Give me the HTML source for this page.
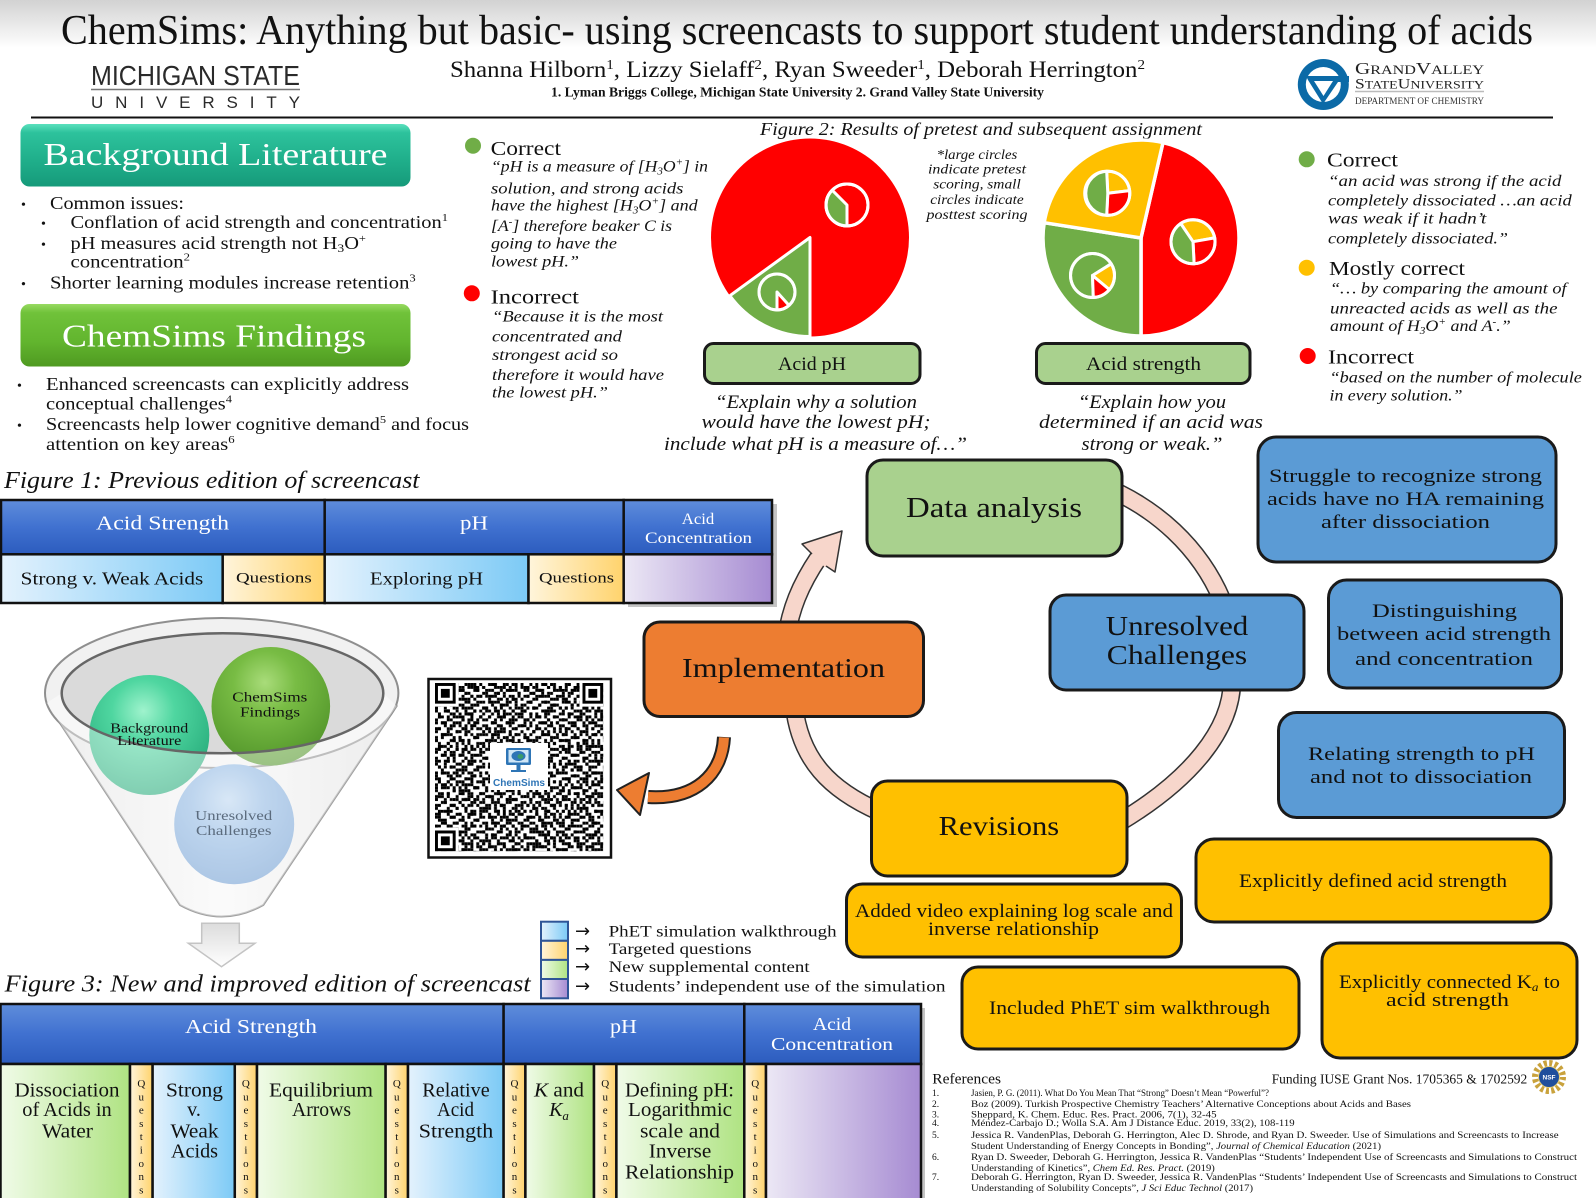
<!DOCTYPE html>
<html><head><meta charset="utf-8">
<style>
html,body{margin:0;padding:0;background:#fff;}
svg{display:block;}
text{font-family:"Liberation Serif","DejaVu Serif",serif;fill:#111;}
.it{font-style:italic;}
.w{fill:#fff;}
.sans{font-family:"Liberation Sans","DejaVu Sans",sans-serif;}
.arr{font-family:"DejaVu Sans",sans-serif;}
</style></head><body>
<svg width="1596" height="1198" viewBox="0 0 1596 1198" xmlns="http://www.w3.org/2000/svg">
<defs>
<linearGradient id="topg" x1="0" y1="0" x2="0" y2="1"><stop offset="0" stop-color="#d2d2d2"/><stop offset="1" stop-color="#ffffff"/></linearGradient>
<linearGradient id="teal" x1="0" y1="0" x2="0" y2="1"><stop offset="0" stop-color="#5be0bd"/><stop offset="0.14" stop-color="#2dc29c"/><stop offset="0.6" stop-color="#1fae8a"/><stop offset="1" stop-color="#169a7a"/></linearGradient>
<linearGradient id="grn" x1="0" y1="0" x2="0" y2="1"><stop offset="0" stop-color="#98da62"/><stop offset="0.14" stop-color="#70c23a"/><stop offset="0.6" stop-color="#62b52e"/><stop offset="1" stop-color="#4f9a21"/></linearGradient>
<linearGradient id="hdr" x1="0" y1="0" x2="0" y2="1"><stop offset="0" stop-color="#5f8ddb"/><stop offset="0.5" stop-color="#4071d0"/><stop offset="1" stop-color="#2c5cbe"/></linearGradient>
<linearGradient id="cb" x1="0" y1="0" x2="1" y2="0"><stop offset="0" stop-color="#e4f2fd"/><stop offset="1" stop-color="#7ccaf6"/></linearGradient>
<linearGradient id="cy" x1="0" y1="0" x2="1" y2="0"><stop offset="0" stop-color="#fff5dc"/><stop offset="1" stop-color="#ffd36c"/></linearGradient>
<linearGradient id="cp" x1="0" y1="0" x2="1" y2="0"><stop offset="0" stop-color="#ece8f5"/><stop offset="1" stop-color="#a68bd2"/></linearGradient>
<linearGradient id="cg" x1="0" y1="0" x2="1" y2="0"><stop offset="0" stop-color="#f0fbe8"/><stop offset="1" stop-color="#afe382"/></linearGradient>
<linearGradient id="fun" x1="0" y1="0" x2="1" y2="0"><stop offset="0" stop-color="#e2e2e2"/><stop offset="0.5" stop-color="#f7f7f7"/><stop offset="1" stop-color="#e0e0e0"/></linearGradient>
<linearGradient id="darr" x1="0" y1="0" x2="0" y2="1"><stop offset="0" stop-color="#dcdcdc"/><stop offset="1" stop-color="#ffffff"/></linearGradient>
<radialGradient id="gBL" cx="0.45" cy="0.3" r="0.75"><stop offset="0" stop-color="#9ff3cd"/><stop offset="0.35" stop-color="#4fd6a0"/><stop offset="1" stop-color="#22a676"/></radialGradient>
<radialGradient id="gCF" cx="0.45" cy="0.3" r="0.75"><stop offset="0" stop-color="#a9dc7a"/><stop offset="0.35" stop-color="#78bc44"/><stop offset="1" stop-color="#4f9228"/></radialGradient>
<radialGradient id="gUC" cx="0.45" cy="0.3" r="0.75"><stop offset="0" stop-color="#bcd6f0"/><stop offset="0.4" stop-color="#8fb7e2"/><stop offset="1" stop-color="#6d9bd0"/></radialGradient>
<pattern id="q11" patternUnits="userSpaceOnUse" width="11" height="11" patternTransform="translate(435,683) scale(2.95)">
<path d="M1 0h1v1h-1zM4 0h1v1h-1zM7 0h1v1h-1zM0 1h1v1h-1zM5 1h1v1h-1zM9 1h1v1h-1zM2 2h2v1h-2zM8 2h1v1h-1zM6 3h1v1h-1zM10 3h1v1h-1zM1 4h1v1h-1zM4 4h1v1h-1zM9 4h1v1h-1zM0 5h1v1h-1zM7 5h1v1h-1zM3 6h1v1h-1zM5 6h1v1h-1zM10 6h1v1h-1zM2 7h1v1h-1zM8 7h1v1h-1zM0 8h1v1h-1zM6 8h1v1h-1zM9 8h1v1h-1zM4 9h1v1h-1zM7 9h1v1h-1zM1 10h1v1h-1zM5 10h1v1h-1zM10 10h1v1h-1z" fill="#000"/>
</pattern>
<pattern id="q13" patternUnits="userSpaceOnUse" width="13" height="13" patternTransform="translate(435,683) scale(2.95)">
<path d="M0 0h1v1h-1zM6 0h1v1h-1zM11 0h1v1h-1zM3 1h1v1h-1zM8 1h1v1h-1zM12 1h1v1h-1zM1 2h1v1h-1zM5 2h1v1h-1zM9 2h1v1h-1zM7 3h1v1h-1zM10 3h1v1h-1zM2 4h1v1h-1zM4 4h1v1h-1zM12 4h1v1h-1zM0 5h1v1h-1zM8 5h1v1h-1zM5 6h2v1h-2zM11 6h1v1h-1zM1 7h1v1h-1zM9 7h1v1h-1zM3 8h1v1h-1zM7 8h1v1h-1zM12 8h1v1h-1zM0 9h1v1h-1zM4 9h1v1h-1zM10 9h1v1h-1zM6 10h1v1h-1zM11 10h1v1h-1zM2 11h1v1h-1zM8 11h2v1h-2zM4 12h1v1h-1zM12 12h1v1h-1z" fill="#000"/>
</pattern>
<pattern id="q17" patternUnits="userSpaceOnUse" width="17" height="17" patternTransform="translate(435,683) scale(2.95)">
<path d="M2 0h2v1h-2zM10 0h1v1h-1zM6 1h1v1h-1zM13 1h2v1h-2zM0 2h1v1h-1zM8 2h2v1h-2zM4 3h1v1h-1zM11 3h1v1h-1zM16 3h1v1h-1zM1 4h2v1h-2zM14 4h1v1h-1zM7 5h1v1h-1zM9 5h2v1h-2zM3 6h1v1h-1zM15 6h1v1h-1zM5 7h2v1h-2zM12 7h1v1h-1zM0 8h1v1h-1zM10 8h1v1h-1zM16 8h1v1h-1zM3 9h2v1h-2zM13 9h1v1h-1zM8 10h1v1h-1zM11 10h2v1h-2zM1 11h1v1h-1zM6 11h1v1h-1zM15 11h1v1h-1zM9 12h1v1h-1zM14 12h1v1h-1zM2 13h2v1h-2zM7 13h1v1h-1zM5 14h1v1h-1zM12 14h2v1h-2zM0 15h1v1h-1zM10 15h1v1h-1zM4 16h1v1h-1zM8 16h1v1h-1zM16 16h1v1h-1z" fill="#000"/>
</pattern>
</defs>

<!-- header -->
<rect x="0" y="0" width="1596" height="48" fill="url(#topg)"/>
<text x="61" y="44" font-size="42" textLength="1472" lengthAdjust="spacingAndGlyphs">ChemSims: Anything but basic- using screencasts to support student understanding of acids</text>

<text class="sans" x="91" y="85" font-size="28" textLength="209" lengthAdjust="spacingAndGlyphs" style="fill:#2a2a2a">MICHIGAN STATE</text>
<line x1="91" y1="89.5" x2="300" y2="89.5" stroke="#777" stroke-width="1.5"/>
<text class="sans" x="91" y="108" font-size="17" textLength="209" lengthAdjust="spacing" style="fill:#2a2a2a">UNIVERSITY</text>

<text x="450" y="77" font-size="23" textLength="695" lengthAdjust="spacingAndGlyphs">Shanna Hilborn<tspan font-size="14" dy="-8">1</tspan><tspan dy="8">, Lizzy Sielaff</tspan><tspan font-size="14" dy="-8">2</tspan><tspan dy="8">, Ryan Sweeder</tspan><tspan font-size="14" dy="-8">1</tspan><tspan dy="8">, Deborah Herrington</tspan><tspan font-size="14" dy="-8">2</tspan></text>
<text x="551" y="96.5" font-size="14" font-weight="bold" textLength="493" lengthAdjust="spacingAndGlyphs">1. Lyman Briggs College, Michigan State University 2. Grand Valley State University</text>

<!-- GVSU logo -->
<circle cx="1323.3" cy="84.5" r="25.5" fill="#0b6aa7"/>
<circle cx="1323.3" cy="84.5" r="17.5" fill="#fff"/>
<polygon points="1306,76 1349,76 1349,82 1338,82 1323,104 1308,80" fill="#0b6aa7"/>
<polygon points="1314,81 1333,81 1323.5,96" fill="#fff"/>
<text x="1355" y="74" font-size="17" textLength="129" lengthAdjust="spacingAndGlyphs" style="fill:#222">G<tspan font-size="13">RAND</tspan>V<tspan font-size="13">ALLEY</tspan></text>
<text x="1355" y="88.5" font-size="15" textLength="129" lengthAdjust="spacingAndGlyphs" style="fill:#222">S<tspan font-size="12">TATE</tspan>U<tspan font-size="12">NIVERSITY</tspan></text>
<line x1="1355" y1="91.5" x2="1484" y2="91.5" stroke="#bbb" stroke-width="1.5"/>
<text x="1355" y="104" font-size="9.5" textLength="129" lengthAdjust="spacingAndGlyphs" style="fill:#333">DEPARTMENT OF CHEMISTRY</text>

<line x1="31" y1="117.5" x2="1553" y2="117.5" stroke="#111" stroke-width="2"/>

<!-- left banners -->
<rect x="20.5" y="124" width="390" height="62.5" rx="9" fill="url(#teal)"/>
<text x="43.5" y="165" font-size="32" textLength="344" lengthAdjust="spacingAndGlyphs" style="fill:#fff">Background Literature</text>
<g font-size="18">
<text x="21" y="209" font-size="14">•</text>
<text x="50" y="209" textLength="134" lengthAdjust="spacingAndGlyphs">Common issues:</text>
<text x="41" y="228" font-size="14">•</text>
<text x="70.5" y="228" textLength="377.5" lengthAdjust="spacingAndGlyphs">Conflation of acid strength and concentration<tspan font-size="11" dy="-7">1</tspan></text>
<text x="41" y="249" font-size="14">•</text>
<text x="70.5" y="249" textLength="295.5" lengthAdjust="spacingAndGlyphs">pH measures acid strength not H<tspan font-size="12" dy="3">3</tspan><tspan dy="-3">O</tspan><tspan font-size="11" dy="-7">+</tspan></text>
<text x="70.5" y="267.7" textLength="119.5" lengthAdjust="spacingAndGlyphs">concentration<tspan font-size="11" dy="-7">2</tspan></text>
<text x="21" y="288.3" font-size="14">•</text>
<text x="50" y="288.3" textLength="365.7" lengthAdjust="spacingAndGlyphs">Shorter learning modules increase retention<tspan font-size="11" dy="-7">3</tspan></text>
</g>
<rect x="20.5" y="304" width="390" height="62.5" rx="9" fill="url(#grn)"/>
<text x="62" y="346.7" font-size="32" textLength="304" lengthAdjust="spacingAndGlyphs" style="fill:#fff">ChemSims Findings</text>
<g font-size="18">
<text x="17" y="390" font-size="14">•</text>
<text x="46" y="390" textLength="363" lengthAdjust="spacingAndGlyphs">Enhanced screencasts can explicitly address</text>
<text x="46" y="409.3" textLength="186" lengthAdjust="spacingAndGlyphs">conceptual challenges<tspan font-size="11" dy="-7">4</tspan></text>
<text x="17" y="430" font-size="14">•</text>
<text x="46" y="430" textLength="423" lengthAdjust="spacingAndGlyphs">Screencasts help lower cognitive demand<tspan font-size="11" dy="-7">5</tspan><tspan dy="7"> and focus</tspan></text>
<text x="46" y="450" textLength="188.6" lengthAdjust="spacingAndGlyphs">attention on key areas<tspan font-size="11" dy="-7">6</tspan></text>
</g>

<!-- middle quotes -->
<circle cx="473" cy="145.7" r="8" fill="#70ad47"/>
<text x="490.6" y="155" font-size="20" textLength="70.4" lengthAdjust="spacingAndGlyphs">Correct</text>
<g font-size="16" style="font-style:italic">
<text x="491" y="171.7" textLength="217" lengthAdjust="spacingAndGlyphs">“pH is a measure of [H<tspan font-size="10" dy="3">3</tspan><tspan dy="-3">O</tspan><tspan font-size="10" dy="-6">+</tspan><tspan dy="6">] in</tspan></text>
<text x="491" y="193.3" textLength="192.4" lengthAdjust="spacingAndGlyphs">solution, and strong acids</text>
<text x="491" y="210.7" textLength="206.7" lengthAdjust="spacingAndGlyphs">have the highest [H<tspan font-size="10" dy="3">3</tspan><tspan dy="-3">O</tspan><tspan font-size="10" dy="-6">+</tspan><tspan dy="6">] and</tspan></text>
<text x="491" y="231" textLength="181" lengthAdjust="spacingAndGlyphs">[A<tspan font-size="10" dy="-6">-</tspan><tspan dy="6">] therefore beaker C is</tspan></text>
<text x="491" y="248.3" textLength="126" lengthAdjust="spacingAndGlyphs">going to have the</text>
<text x="491" y="266.7" textLength="88" lengthAdjust="spacingAndGlyphs">lowest pH.”</text>
</g>
<circle cx="471.8" cy="293.3" r="8" fill="#ff0000"/>
<text x="490.6" y="303.3" font-size="20" textLength="88.4" lengthAdjust="spacingAndGlyphs">Incorrect</text>
<g font-size="16" style="font-style:italic">
<text x="492" y="321.7" textLength="171" lengthAdjust="spacingAndGlyphs">“Because it is the most</text>
<text x="492" y="341.7" textLength="130" lengthAdjust="spacingAndGlyphs">concentrated and</text>
<text x="492" y="360" textLength="126" lengthAdjust="spacingAndGlyphs">strongest acid so</text>
<text x="492" y="380" textLength="172" lengthAdjust="spacingAndGlyphs">therefore it would have</text>
<text x="492" y="397.3" textLength="116" lengthAdjust="spacingAndGlyphs">the lowest pH.”</text>
</g>

<!-- figure 2 -->
<text x="760" y="135" font-size="18" style="font-style:italic" textLength="442" lengthAdjust="spacingAndGlyphs">Figure 2: Results of pretest and subsequent assignment</text>
<g font-size="14" style="font-style:italic" text-anchor="middle">
<text x="977" y="159" textLength="80.6" lengthAdjust="spacingAndGlyphs">*large circles</text>
<text x="977" y="173.5" textLength="98" lengthAdjust="spacingAndGlyphs">indicate pretest</text>
<text x="977" y="188.5" textLength="87.5" lengthAdjust="spacingAndGlyphs">scoring, small</text>
<text x="977" y="204" textLength="93.5" lengthAdjust="spacingAndGlyphs">circles indicate</text>
<text x="977" y="219" textLength="101" lengthAdjust="spacingAndGlyphs">posttest scoring</text>
</g>

<!-- pie 1 -->
<g stroke="#fff" stroke-width="3" stroke-linejoin="round">
<circle cx="810" cy="237.5" r="99" fill="#ff0000" stroke="none"/>
<path d="M810 237.5 L810 336.5 A99 99 0 0 1 729.9 295.7 Z" fill="#70ad47"/>
<circle cx="847" cy="205" r="21" fill="#ff0000"/>
<path d="M847 205 L847 226 A21 21 0 0 1 832.2 190.2 Z" fill="#70ad47"/>
<circle cx="847" cy="205" r="21" fill="none"/>
<circle cx="777" cy="292" r="18" fill="#70ad47"/>
<path d="M777 292 L789 305.4 A18 18 0 0 1 777 310 Z" fill="#ff0000"/>
<circle cx="777" cy="292" r="18" fill="none"/>
</g>
<!-- pie 2 -->
<g stroke="#fff" stroke-width="3.5" stroke-linejoin="round">
<path d="M1141 238 L1163 142.5 A98 98 0 0 1 1141 336 Z" fill="#ff0000"/>
<path d="M1141 238 L1141 336 A98 98 0 0 1 1044.2 222.7 Z" fill="#70ad47"/>
<path d="M1141 238 L1044.2 222.7 A98 98 0 0 1 1163 142.5 Z" fill="#ffc000"/>
</g>
<g stroke="#fff" stroke-width="3" stroke-linejoin="round">
<path d="M1107.8 193.3 L1106.7 171.3 A22 22 0 0 1 1129.6 190.6 Z" fill="#ffc000"/>
<path d="M1107.8 193.3 L1129.6 190.6 A22 22 0 0 1 1106.7 215.3 Z" fill="#ff0000"/>
<path d="M1107.8 193.3 L1106.7 215.3 A22 22 0 0 1 1106.7 171.3 Z" fill="#70ad47"/>
<circle cx="1107.8" cy="193.3" r="22" fill="none"/>
<path d="M1193 241.7 L1180.7 223.5 A22 22 0 0 1 1214.7 237.9 Z" fill="#ffc000"/>
<path d="M1193 241.7 L1214.7 237.9 A22 22 0 0 1 1194.1 263.7 Z" fill="#ff0000"/>
<path d="M1193 241.7 L1194.1 263.7 A22 22 0 0 1 1180.7 223.5 Z" fill="#70ad47"/>
<circle cx="1193" cy="241.7" r="22" fill="none"/>
<path d="M1092.5 275.5 L1093.3 297.5 A22 22 0 1 1 1111.2 263.8 Z" fill="#70ad47"/>
<path d="M1092.5 275.5 L1111.2 263.8 A22 22 0 0 1 1109.4 289.6 Z" fill="#ffc000"/>
<path d="M1092.5 275.5 L1109.4 289.6 A22 22 0 0 1 1093.3 297.5 Z" fill="#ff0000"/>
<circle cx="1092.5" cy="275.5" r="22" fill="none"/>
</g>

<rect x="704.5" y="343.5" width="215.5" height="40" rx="9" fill="#a9d18e" stroke="#1a1a1a" stroke-width="3"/>
<text x="812" y="370" font-size="19" text-anchor="middle" textLength="68" lengthAdjust="spacingAndGlyphs">Acid pH</text>
<rect x="1036.5" y="343.5" width="213.5" height="40" rx="9" fill="#a9d18e" stroke="#1a1a1a" stroke-width="3"/>
<text x="1143.5" y="370" font-size="19" text-anchor="middle" textLength="115" lengthAdjust="spacingAndGlyphs">Acid strength</text>

<g font-size="19" style="font-style:italic" text-anchor="middle">
<text x="816" y="408" textLength="202" lengthAdjust="spacingAndGlyphs">“Explain why a solution</text>
<text x="816" y="428" textLength="229" lengthAdjust="spacingAndGlyphs">would have the lowest pH;</text>
<text x="815.5" y="450" textLength="303" lengthAdjust="spacingAndGlyphs">include what pH is a measure of…”</text>
<text x="1152" y="408" textLength="148" lengthAdjust="spacingAndGlyphs">“Explain how you</text>
<text x="1151" y="428" textLength="224" lengthAdjust="spacingAndGlyphs">determined if an acid was</text>
<text x="1152" y="450" textLength="141" lengthAdjust="spacingAndGlyphs">strong or weak.”</text>
</g>

<!-- right legend -->
<circle cx="1306.7" cy="159.3" r="8" fill="#70ad47"/>
<text x="1327" y="166.7" font-size="20" textLength="71" lengthAdjust="spacingAndGlyphs">Correct</text>
<g font-size="16" style="font-style:italic">
<text x="1328" y="186" textLength="233.5" lengthAdjust="spacingAndGlyphs">“an acid  was strong if the acid</text>
<text x="1328" y="205.7" textLength="243.7" lengthAdjust="spacingAndGlyphs">completely dissociated …an acid</text>
<text x="1328" y="223.3" textLength="158.4" lengthAdjust="spacingAndGlyphs">was weak if it hadn’t</text>
<text x="1328" y="243.3" textLength="180" lengthAdjust="spacingAndGlyphs">completely dissociated.”</text>
</g>
<circle cx="1306.7" cy="267.7" r="8" fill="#ffc000"/>
<text x="1329" y="275" font-size="20" textLength="136" lengthAdjust="spacingAndGlyphs">Mostly correct</text>
<g font-size="16" style="font-style:italic">
<text x="1330" y="293.3" textLength="236.6" lengthAdjust="spacingAndGlyphs">“… by comparing the amount of</text>
<text x="1330" y="313.3" textLength="227.5" lengthAdjust="spacingAndGlyphs">unreacted acids as well as the</text>
<text x="1330" y="331" textLength="180.8" lengthAdjust="spacingAndGlyphs">amount of H<tspan font-size="10" dy="3">3</tspan><tspan dy="-3">O</tspan><tspan font-size="10" dy="-6">+</tspan><tspan dy="6"> and A</tspan><tspan font-size="10" dy="-6">-</tspan><tspan dy="6">.”</tspan></text>
</g>
<circle cx="1307.7" cy="356" r="8" fill="#ff0000"/>
<text x="1328" y="363.3" font-size="20" textLength="86" lengthAdjust="spacingAndGlyphs">Incorrect</text>
<g font-size="16" style="font-style:italic">
<text x="1329.5" y="382.7" textLength="252.4" lengthAdjust="spacingAndGlyphs">“based on the number of molecule</text>
<text x="1329.5" y="400.7" textLength="133" lengthAdjust="spacingAndGlyphs">in every solution.”</text>
</g>

<!-- figure 1 -->
<text x="4" y="488" font-size="24" style="font-style:italic" textLength="415.5" lengthAdjust="spacingAndGlyphs">Figure 1: Previous edition of screencast</text>
<rect x="628" y="504" width="149" height="103" fill="#555" opacity="0.35"/>
<g stroke="#111" stroke-width="2.5">
<rect x="1" y="500" width="323.7" height="54.3" fill="url(#hdr)"/>
<rect x="324.7" y="500" width="299" height="54.3" fill="url(#hdr)"/>
<rect x="623.7" y="500" width="148.3" height="54.3" fill="url(#hdr)"/>
<rect x="1" y="554.3" width="221.7" height="48.7" fill="url(#cb)"/>
<rect x="222.7" y="554.3" width="102" height="48.7" fill="url(#cy)"/>
<rect x="324.7" y="554.3" width="203.8" height="48.7" fill="url(#cb)"/>
<rect x="528.5" y="554.3" width="95.2" height="48.7" fill="url(#cy)"/>
<rect x="623.7" y="554.3" width="148.3" height="48.7" fill="url(#cp)"/>
</g>
<text x="162.5" y="529.3" font-size="20" text-anchor="middle" textLength="133" lengthAdjust="spacingAndGlyphs" style="fill:#fff">Acid Strength</text>
<text x="474" y="529.3" font-size="20" text-anchor="middle" textLength="28" lengthAdjust="spacingAndGlyphs" style="fill:#fff">pH</text>
<text x="698" y="524" font-size="16" text-anchor="middle" textLength="32.5" lengthAdjust="spacingAndGlyphs" style="fill:#fff">Acid</text>
<text x="698.5" y="543" font-size="16" text-anchor="middle" textLength="107" lengthAdjust="spacingAndGlyphs" style="fill:#fff">Concentration</text>
<text x="20.7" y="584.3" font-size="18" textLength="182.6" lengthAdjust="spacingAndGlyphs">Strong v. Weak Acids</text>
<text x="236" y="582.7" font-size="15" textLength="75.7" lengthAdjust="spacingAndGlyphs">Questions</text>
<text x="370" y="584.3" font-size="18" textLength="113" lengthAdjust="spacingAndGlyphs">Exploring pH</text>
<text x="539" y="582.7" font-size="15" textLength="75" lengthAdjust="spacingAndGlyphs">Questions</text>

<!-- funnel -->
<path d="M46.7 703 L180 905 Q221.7 928 263.3 905 L396.7 706 A176.7 75 0 0 0 46.7 703 Z" fill="url(#fun)" stroke="#a0a0a0" stroke-width="2"/>
<ellipse cx="221.7" cy="693" rx="176.7" ry="75" fill="#f1f1f1" stroke="#8f8f8f" stroke-width="2"/>
<ellipse cx="222.5" cy="693.3" rx="160.8" ry="60" fill="#dadada"/>
<circle cx="149.3" cy="735" r="60" fill="url(#gBL)"/>
<circle cx="270.8" cy="706.3" r="59.3" fill="url(#gCF)"/>
<circle cx="234.2" cy="824.2" r="60" fill="url(#gUC)"/>
<path d="M61.7 693.3 A160.8 60 0 0 0 383.3 693.3 L396.7 706 L263.3 905 Q221.7 928 180 905 L46.7 703 Z" fill="#ffffff" opacity="0.42"/>
<ellipse cx="222.5" cy="693.3" rx="160.8" ry="60" fill="none" stroke="#666" stroke-width="2.5"/>
<g font-size="14">
<text x="149.3" y="732.7" text-anchor="middle" textLength="78" lengthAdjust="spacingAndGlyphs">Background</text>
<text x="149.3" y="745" text-anchor="middle" textLength="64" lengthAdjust="spacingAndGlyphs">Literature</text>
<text x="269.8" y="701.7" text-anchor="middle" textLength="75" lengthAdjust="spacingAndGlyphs">ChemSims</text>
<text x="270" y="716.7" text-anchor="middle" textLength="60" lengthAdjust="spacingAndGlyphs">Findings</text>
<text x="233.7" y="820" text-anchor="middle" textLength="77" lengthAdjust="spacingAndGlyphs" style="fill:#5b6b7d">Unresolved</text>
<text x="233.8" y="835" text-anchor="middle" textLength="75.5" lengthAdjust="spacingAndGlyphs" style="fill:#5b6b7d">Challenges</text>
</g>
<polygon points="201.7,923.3 239.3,923.3 239.3,943.3 255,943.3 221.5,966.7 188.3,943.3 201.7,943.3" fill="url(#darr)" stroke="#c4c4c4" stroke-width="1.5"/>

<!-- QR -->
<rect x="428.5" y="679" width="182.5" height="178.5" fill="#fff" stroke="#111" stroke-width="2.5"/>
<rect x="435" y="683" width="168.2" height="168.2" fill="url(#q11)"/>
<rect x="435" y="683" width="168.2" height="168.2" fill="url(#q13)"/>
<rect x="435" y="683" width="168.2" height="168.2" fill="url(#q17)"/>
<g>
<rect x="435" y="683" width="23.6" height="23.6" fill="#fff"/>
<rect x="435" y="683" width="20.65" height="20.65" fill="#000"/>
<rect x="437.95" y="685.95" width="14.75" height="14.75" fill="#fff"/>
<rect x="440.9" y="688.9" width="8.85" height="8.85" fill="#000"/>
<rect x="579.6" y="683" width="23.6" height="23.6" fill="#fff"/>
<rect x="582.5" y="683" width="20.65" height="20.65" fill="#000"/>
<rect x="585.45" y="685.95" width="14.75" height="14.75" fill="#fff"/>
<rect x="588.4" y="688.9" width="8.85" height="8.85" fill="#000"/>
<rect x="435" y="827.6" width="23.6" height="23.6" fill="#fff"/>
<rect x="435" y="830.5" width="20.65" height="20.65" fill="#000"/>
<rect x="437.95" y="833.45" width="14.75" height="14.75" fill="#fff"/>
<rect x="440.9" y="836.4" width="8.85" height="8.85" fill="#000"/>
</g>
<rect x="490" y="743" width="58" height="47" fill="#fff"/>
<rect x="506" y="748" width="25" height="17" rx="1.5" fill="#2e75b6"/>
<rect x="508.5" y="750" width="20" height="12.5" fill="#cfe6f7"/>
<ellipse cx="518.5" cy="756" rx="7" ry="5" fill="#2e75b6"/>
<ellipse cx="520.5" cy="756.5" rx="3" ry="2.5" fill="#3a9a6a"/>
<rect x="516.5" y="765" width="4" height="5" fill="#2e75b6"/>
<rect x="511" y="770" width="15" height="2" fill="#2e75b6"/>
<text class="sans" x="519" y="786" font-size="10" font-weight="bold" text-anchor="middle" textLength="52" lengthAdjust="spacingAndGlyphs" style="fill:#2e75b6">ChemSims</text>

<!-- cycle arcs -->
<g fill="none" stroke-linecap="butt">
<path d="M1100 485 A225 205 0 0 1 1222 600" stroke="#333" stroke-width="19"/>
<path d="M1100 485 A225 205 0 0 1 1222 600" stroke="#f7d6cb" stroke-width="16"/>
<path d="M1232 680 C1232 730 1190 780 1120 822" stroke="#333" stroke-width="19"/>
<path d="M1232 680 C1232 730 1190 780 1120 822" stroke="#f7d6cb" stroke-width="16"/>
<path d="M794 705 C800 760 830 790 880 812" stroke="#333" stroke-width="19"/>
<path d="M794 705 C800 760 830 790 880 812" stroke="#f7d6cb" stroke-width="16"/>
<path d="M786 640 C790 610 800 585 819 557" stroke="#333" stroke-width="19"/>
<path d="M786 640 C790 610 800 585 819 557" stroke="#f7d6cb" stroke-width="16"/>
</g>
<polygon points="802,544 842,531 835,572 826,566 812,554" fill="#f7d6cb" stroke="#333" stroke-width="1.5" stroke-linejoin="round"/>
<path d="M812 554 L826 566" stroke="#f7d6cb" stroke-width="3"/>

<!-- orange arrow -->
<path d="M724 737 C722 775 695 800 648 797" fill="none" stroke="#222" stroke-width="14"/>
<path d="M724 737.5 C722 775 695 800 648 797" fill="none" stroke="#ed7d31" stroke-width="10"/>
<polygon points="649,773 617,790 640,815" fill="#ed7d31" stroke="#222" stroke-width="2" stroke-linejoin="round"/>

<!-- cycle boxes -->
<g stroke="#1a1a1a" stroke-width="3">
<rect x="867" y="460" width="255" height="96" rx="16" fill="#a9d18e"/>
<rect x="1050" y="595" width="254" height="95" rx="16" fill="#5b9bd5"/>
<rect x="644" y="622" width="279.5" height="94.5" rx="16" fill="#ed7d31"/>
<rect x="871.5" y="781" width="255.5" height="95" rx="16" fill="#ffc000"/>
</g>
<g font-size="27">
<text x="906" y="517" font-size="28" textLength="176" lengthAdjust="spacingAndGlyphs">Data analysis</text>
<text x="1177" y="635" text-anchor="middle" textLength="142.5" lengthAdjust="spacingAndGlyphs">Unresolved</text>
<text x="1177" y="664" text-anchor="middle" textLength="140.5" lengthAdjust="spacingAndGlyphs">Challenges</text>
<text x="682" y="677" textLength="203" lengthAdjust="spacingAndGlyphs">Implementation</text>
<text x="938.7" y="835" textLength="120.5" lengthAdjust="spacingAndGlyphs">Revisions</text>
</g>

<!-- right boxes -->
<g stroke="#1a1a1a" stroke-width="3">
<rect x="1258" y="437" width="298" height="125" rx="18" fill="#5b9bd5"/>
<rect x="1328.5" y="580" width="233" height="108" rx="18" fill="#5b9bd5"/>
<rect x="1278.5" y="712.5" width="286" height="105" rx="18" fill="#5b9bd5"/>
<rect x="1196" y="839" width="355" height="83" rx="18" fill="#ffc000"/>
<rect x="846.5" y="884" width="335" height="73" rx="16" fill="#ffc000"/>
<rect x="1322" y="943" width="255" height="115" rx="18" fill="#ffc000"/>
<rect x="962" y="967" width="337" height="82" rx="16" fill="#ffc000"/>
</g>
<g font-size="19" text-anchor="middle">
<text x="1405.5" y="482" textLength="273" lengthAdjust="spacingAndGlyphs">Struggle to recognize strong</text>
<text x="1405.5" y="505" textLength="277" lengthAdjust="spacingAndGlyphs">acids have no HA remaining</text>
<text x="1405.5" y="528" textLength="169" lengthAdjust="spacingAndGlyphs">after dissociation</text>
<text x="1444.5" y="617" textLength="145" lengthAdjust="spacingAndGlyphs">Distinguishing</text>
<text x="1444" y="640" textLength="214" lengthAdjust="spacingAndGlyphs">between acid strength</text>
<text x="1444" y="665" textLength="178" lengthAdjust="spacingAndGlyphs">and concentration</text>
<text x="1421.5" y="760" textLength="227" lengthAdjust="spacingAndGlyphs">Relating strength to pH</text>
<text x="1421" y="783" textLength="222" lengthAdjust="spacingAndGlyphs">and not to dissociation</text>
<text x="1373" y="887" textLength="268" lengthAdjust="spacingAndGlyphs">Explicitly defined acid strength</text>
<text x="1014" y="917" textLength="318" lengthAdjust="spacingAndGlyphs">Added video explaining log scale and</text>
<text x="1013.5" y="935" textLength="171" lengthAdjust="spacingAndGlyphs">inverse relationship</text>
<text x="1449.5" y="988" textLength="221" lengthAdjust="spacingAndGlyphs">Explicitly connected K<tspan font-size="12" dy="3" style="font-style:italic">a</tspan><tspan dy="-3"> to</tspan></text>
<text x="1447.5" y="1006" textLength="123" lengthAdjust="spacingAndGlyphs">acid strength</text>
<text x="1129.5" y="1014" textLength="281" lengthAdjust="spacingAndGlyphs">Included PhET sim walkthrough</text>
</g>

<!-- legend -->
<g stroke="#2f5597" stroke-width="2">
<rect x="541" y="921.7" width="27" height="19.1" fill="url(#cb)"/>
<rect x="541" y="940.8" width="27" height="19.1" fill="url(#cy)"/>
<rect x="541" y="959.9" width="27" height="19.1" fill="url(#cg)"/>
<rect x="541" y="979" width="27" height="19.3" fill="url(#cp)"/>
</g>
<g font-size="15.5">
<text x="575" y="937" class="arr" font-size="18">→</text>
<text x="575" y="954.5" class="arr" font-size="18">→</text>
<text x="575" y="972.5" class="arr" font-size="18">→</text>
<text x="575" y="992" class="arr" font-size="18">→</text>
<text x="608.6" y="936.5" textLength="228" lengthAdjust="spacingAndGlyphs">PhET simulation walkthrough</text>
<text x="608.6" y="954" textLength="143" lengthAdjust="spacingAndGlyphs">Targeted questions</text>
<text x="608.6" y="972" textLength="201" lengthAdjust="spacingAndGlyphs">New supplemental content</text>
<text x="608.6" y="991.5" textLength="337" lengthAdjust="spacingAndGlyphs">Students’ independent use of the simulation</text>
</g>

<!-- figure 3 -->
<text x="4.7" y="991.7" font-size="24" style="font-style:italic" textLength="526" lengthAdjust="spacingAndGlyphs">Figure 3: New and improved edition of screencast</text>
<rect x="748" y="1008" width="177" height="195" fill="#555" opacity="0.35"/>
<g stroke="#111" stroke-width="2.5">
<rect x="0.5" y="1004" width="503.1" height="60" fill="url(#hdr)"/>
<rect x="503.6" y="1004" width="240.7" height="60" fill="url(#hdr)"/>
<rect x="744.3" y="1004" width="176.7" height="60" fill="url(#hdr)"/>
<rect x="0.5" y="1064" width="129.5" height="140" fill="url(#cg)"/>
<rect x="130" y="1064" width="22.6" height="140" fill="url(#cy)"/>
<rect x="152.6" y="1064" width="82.2" height="140" fill="url(#cb)"/>
<rect x="234.8" y="1064" width="22.2" height="140" fill="url(#cy)"/>
<rect x="257" y="1064" width="128.6" height="140" fill="url(#cg)"/>
<rect x="385.6" y="1064" width="22.4" height="140" fill="url(#cy)"/>
<rect x="408" y="1064" width="95.6" height="140" fill="url(#cb)"/>
<rect x="503.6" y="1064" width="21.8" height="140" fill="url(#cy)"/>
<rect x="525.4" y="1064" width="68.6" height="140" fill="url(#cg)"/>
<rect x="594" y="1064" width="22.4" height="140" fill="url(#cy)"/>
<rect x="616.4" y="1064" width="127.9" height="140" fill="url(#cg)"/>
<rect x="744.3" y="1064" width="21.7" height="140" fill="url(#cy)"/>
<rect x="766" y="1064" width="155" height="140" fill="url(#cp)"/>
</g>
<g font-size="20" text-anchor="middle">
<text x="251" y="1033" textLength="132" lengthAdjust="spacingAndGlyphs" style="fill:#fff">Acid Strength</text>
<text x="623.5" y="1033" textLength="27" lengthAdjust="spacingAndGlyphs" style="fill:#fff">pH</text>
<text x="832" y="1030" font-size="18" textLength="38" lengthAdjust="spacingAndGlyphs" style="fill:#fff">Acid</text>
<text x="832" y="1050" font-size="18" textLength="122" lengthAdjust="spacingAndGlyphs" style="fill:#fff">Concentration</text>
</g>
<g font-size="20" text-anchor="middle">
<text x="67" y="1096.7" textLength="105" lengthAdjust="spacingAndGlyphs">Dissociation</text>
<text x="67" y="1116" textLength="89.5" lengthAdjust="spacingAndGlyphs">of Acids in</text>
<text x="67.5" y="1137.5" textLength="51" lengthAdjust="spacingAndGlyphs">Water</text>
<text x="194.5" y="1096.7" textLength="57" lengthAdjust="spacingAndGlyphs">Strong</text>
<text x="194" y="1116">v.</text>
<text x="194.5" y="1137.5" textLength="48" lengthAdjust="spacingAndGlyphs">Weak</text>
<text x="194.5" y="1157.5" textLength="47" lengthAdjust="spacingAndGlyphs">Acids</text>
<text x="321" y="1096.7" textLength="104" lengthAdjust="spacingAndGlyphs">Equilibrium</text>
<text x="321.5" y="1116" textLength="59" lengthAdjust="spacingAndGlyphs">Arrows</text>
<text x="456" y="1096.7" textLength="67.4" lengthAdjust="spacingAndGlyphs">Relative</text>
<text x="455.5" y="1116" textLength="37" lengthAdjust="spacingAndGlyphs">Acid</text>
<text x="456" y="1137.5" textLength="74.5" lengthAdjust="spacingAndGlyphs">Strength</text>
<text x="559" y="1096.7" textLength="50" lengthAdjust="spacingAndGlyphs"><tspan style="font-style:italic">K</tspan> and</text>
<text x="559" y="1116" style="font-style:italic">K<tspan font-size="13" dy="4">a</tspan></text>
<text x="679.5" y="1096.7" textLength="109" lengthAdjust="spacingAndGlyphs">Defining pH:</text>
<text x="680" y="1116" textLength="104" lengthAdjust="spacingAndGlyphs">Logarithmic</text>
<text x="680" y="1137.5" textLength="80" lengthAdjust="spacingAndGlyphs">scale and</text>
<text x="680" y="1157.5" textLength="62.5" lengthAdjust="spacingAndGlyphs">Inverse</text>
<text x="679.5" y="1178.5" textLength="109" lengthAdjust="spacingAndGlyphs">Relationship</text>
</g>
<g font-size="11" text-anchor="middle">
<text x="141.3" y="1087">Q<tspan x="141.3" dy="13.3">u</tspan><tspan x="141.3" dy="13.3">e</tspan><tspan x="141.3" dy="13.3">s</tspan><tspan x="141.3" dy="13.3">t</tspan><tspan x="141.3" dy="13.3">i</tspan><tspan x="141.3" dy="13.3">o</tspan><tspan x="141.3" dy="13.3">n</tspan><tspan x="141.3" dy="13.3">s</tspan></text>
<text x="245.9" y="1087">Q<tspan x="245.9" dy="13.3">u</tspan><tspan x="245.9" dy="13.3">e</tspan><tspan x="245.9" dy="13.3">s</tspan><tspan x="245.9" dy="13.3">t</tspan><tspan x="245.9" dy="13.3">i</tspan><tspan x="245.9" dy="13.3">o</tspan><tspan x="245.9" dy="13.3">n</tspan><tspan x="245.9" dy="13.3">s</tspan></text>
<text x="396.8" y="1087">Q<tspan x="396.8" dy="13.3">u</tspan><tspan x="396.8" dy="13.3">e</tspan><tspan x="396.8" dy="13.3">s</tspan><tspan x="396.8" dy="13.3">t</tspan><tspan x="396.8" dy="13.3">i</tspan><tspan x="396.8" dy="13.3">o</tspan><tspan x="396.8" dy="13.3">n</tspan><tspan x="396.8" dy="13.3">s</tspan></text>
<text x="514.5" y="1087">Q<tspan x="514.5" dy="13.3">u</tspan><tspan x="514.5" dy="13.3">e</tspan><tspan x="514.5" dy="13.3">s</tspan><tspan x="514.5" dy="13.3">t</tspan><tspan x="514.5" dy="13.3">i</tspan><tspan x="514.5" dy="13.3">o</tspan><tspan x="514.5" dy="13.3">n</tspan><tspan x="514.5" dy="13.3">s</tspan></text>
<text x="605.2" y="1087">Q<tspan x="605.2" dy="13.3">u</tspan><tspan x="605.2" dy="13.3">e</tspan><tspan x="605.2" dy="13.3">s</tspan><tspan x="605.2" dy="13.3">t</tspan><tspan x="605.2" dy="13.3">i</tspan><tspan x="605.2" dy="13.3">o</tspan><tspan x="605.2" dy="13.3">n</tspan><tspan x="605.2" dy="13.3">s</tspan></text>
<text x="755.2" y="1087">Q<tspan x="755.2" dy="13.3">u</tspan><tspan x="755.2" dy="13.3">e</tspan><tspan x="755.2" dy="13.3">s</tspan><tspan x="755.2" dy="13.3">t</tspan><tspan x="755.2" dy="13.3">i</tspan><tspan x="755.2" dy="13.3">o</tspan><tspan x="755.2" dy="13.3">n</tspan><tspan x="755.2" dy="13.3">s</tspan></text>
</g>

<!-- references -->
<text x="932.3" y="1083.5" font-size="15" textLength="68.7" lengthAdjust="spacingAndGlyphs">References</text>
<text x="1271.7" y="1083.5" font-size="14" textLength="255.6" lengthAdjust="spacingAndGlyphs">Funding IUSE Grant Nos. 1705365 &amp; 1702592</text>
<circle cx="1549" cy="1077" r="13.5" fill="none" stroke="#c9a23c" stroke-width="7" stroke-dasharray="3 2.3"/>
<circle cx="1549" cy="1077" r="10.5" fill="#1f4e9c" stroke="#e8cf7a" stroke-width="1"/>
<text class="sans" x="1549" y="1079.5" font-size="6.5" font-weight="bold" text-anchor="middle" style="fill:#fff">NSF</text>
<g font-size="9.5">
<text x="932" y="1095.8">1.</text>
<text x="971" y="1095.8" textLength="298" lengthAdjust="spacingAndGlyphs">Jasien, P. G. (2011). What Do You Mean That “Strong” Doesn’t Mean “Powerful”?</text>
<text x="932" y="1106.8">2.</text>
<text x="971" y="1106.8" textLength="440" lengthAdjust="spacingAndGlyphs">Boz (2009). Turkish Prospective Chemistry Teachers’ Alternative Conceptions about Acids and Bases</text>
<text x="932" y="1117.5">3.</text>
<text x="971" y="1117.5" textLength="245.6" lengthAdjust="spacingAndGlyphs">Sheppard, K. Chem. Educ. Res. Pract. 2006, 7(1), 32-45</text>
<text x="932" y="1126.2">4.</text>
<text x="971" y="1126.2" textLength="323.6" lengthAdjust="spacingAndGlyphs">Méndez-Carbajo D.; Wolla S.A. Am J Distance Educ. 2019, 33(2), 108-119</text>
<text x="932" y="1137.8">5.</text>
<text x="971" y="1137.8" textLength="587.6" lengthAdjust="spacingAndGlyphs">Jessica R. VandenPlas, Deborah G. Herrington, Alec D. Shrode, and Ryan D. Sweeder. Use of Simulations and Screencasts to Increase</text>
<text x="971" y="1148.8" textLength="410" lengthAdjust="spacingAndGlyphs">Student Understanding of Energy Concepts in Bonding”, <tspan style="font-style:italic">Journal of Chemical Education</tspan> (2021)</text>
<text x="932" y="1160.2">6.</text>
<text x="971" y="1160.2" textLength="606" lengthAdjust="spacingAndGlyphs">Ryan D. Sweeder, Deborah G. Herrington, Jessica R. VandenPlas “Students’ Independent Use of Screencasts and Simulations to Construct</text>
<text x="971" y="1170.8" textLength="243.8" lengthAdjust="spacingAndGlyphs">Understanding of Kinetics”, <tspan style="font-style:italic">Chem Ed. Res. Pract.</tspan> (2019)</text>
<text x="932" y="1180.2">7.</text>
<text x="971" y="1180.2" textLength="606" lengthAdjust="spacingAndGlyphs">Deborah G. Herrington, Ryan D. Sweeder, Jessica R. VandenPlas “Students’ Independent Use of Screencasts and Simulations to Construct</text>
<text x="971" y="1191.2" textLength="282" lengthAdjust="spacingAndGlyphs">Understanding of Solubility Concepts”, <tspan style="font-style:italic">J Sci Educ Technol</tspan> (2017)</text>
</g>
</svg>
</body></html>
